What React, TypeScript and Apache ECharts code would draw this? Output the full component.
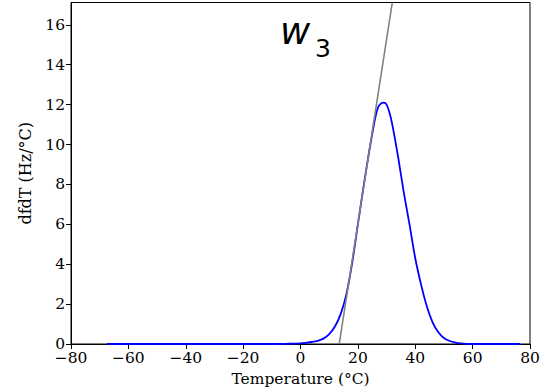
import React, { useEffect, useRef } from "react";
import * as echarts from "echarts";

const temps = [-67.5, -60, -50, -40, -30, -20, -10, -5, 0, 2, 4, 6, 8, 10, 12, 14, 16, 18, 20, 22, 24, 26, 27, 28, 29, 30, 31, 32, 34, 36, 38, 40, 42, 44, 46, 48, 50, 52, 54, 56, 58, 60, 65, 70, 76.5];
const dfdT = [0, 0, 0, 0, 0, 0, 0, 0.01, 0.03, 0.06, 0.1, 0.16, 0.27, 0.5, 0.88, 1.5, 2.5, 4.05, 6.0, 7.9, 9.7, 11.3, 11.85, 12.05, 12.1, 12.0, 11.6, 11.0, 9.4, 7.6, 6.0, 4.3, 3.0, 1.9, 1.1, 0.6, 0.3, 0.15, 0.07, 0.03, 0.01, 0, 0, 0, 0];

const tangentX = [13.5, 32.0];
const tangentY = [0, 17.12];

const yTicks = [0, 2, 4, 6, 8, 10, 12, 14, 16];
const xMin = -80;
const xMax = 80;
const yMax = 17.12;

const labelText = "w";
const subText = "3";

export default function App() {
  const ref = useRef<HTMLDivElement>(null);
  useEffect(() => {
    if (!ref.current) return;
    const chart = echarts.init(ref.current, null, { renderer: "svg" });
    const serif = "DejaVu Serif";
    chart.setOption({
      animation: false,
      backgroundColor: "#fff",
      grid: {
        left: 71,
        right: 15,
        top: 2.5,
        bottom: 47,
        show: true,
        borderColor: "#000",
        borderWidth: 1,
        backgroundColor: "transparent",
      },
      xAxis: {
        type: "value",
        min: xMin,
        max: xMax,
        interval: 20,
        name: "Temperature (°C)",
        nameLocation: "middle",
        nameGap: 27,
        nameTextStyle: { fontFamily: serif, fontSize: 15.5, color: "#000" },
        axisLine: { onZero: false, lineStyle: { color: "#000", width: 1 } },
        axisTick: { inside: false, length: 5, lineStyle: { color: "#000" } },
        axisLabel: {
          fontFamily: serif,
          fontSize: 15.5,
          color: "#000",
          margin: 6,
          formatter: (v: number) => (v < 0 ? "\u2212" + Math.abs(v) : String(v)),
        },
        splitLine: { show: false },
      },
      yAxis: {
        type: "value",
        min: 0,
        max: yMax,
        name: "dfdT (Hz/°C)",
        nameLocation: "middle",
        nameGap: 38,
        nameTextStyle: { fontFamily: serif, fontSize: 16, color: "#000" },
        axisLine: { show: true, onZero: false, lineStyle: { color: "#000", width: 1 } },
        axisTick: { show: true, inside: false, length: 5, customValues: yTicks, lineStyle: { color: "#000" } },
        axisLabel: {
          fontFamily: serif,
          fontSize: 15.5,
          color: "#000",
          margin: 6,
          customValues: yTicks,
        },
        splitLine: { show: false },
      },
      series: [
        {
          type: "line",
          data: temps.map((t, i) => [t, dfdT[i]]),
          showSymbol: false,
          smooth: 0.3,
          lineStyle: { color: "#0000ff", width: 1.8 },
          clip: true,
          z: 2,
        },
        {
          type: "line",
          data: tangentX.map((t, i) => [t, tangentY[i]]),
          showSymbol: false,
          lineStyle: { color: "#808080", width: 1.6 },
          clip: true,
          z: 3,
        },
      ],
      graphic: [
        {
          type: "text",
          left: 280,
          top: 13,
          style: {
            text: labelText,
            font: "italic 37px 'DejaVu Sans'",
            fill: "#000",
          },
        },
        {
          type: "text",
          left: 315,
          top: 36,
          style: {
            text: subText,
            font: "25px 'DejaVu Sans'",
            fill: "#000",
          },
        },
      ],
    });
    return () => chart.dispose();
  }, []);
  return (
    <div
      ref={ref}
      style={{ position: "fixed", left: 0, top: 0, width: 545, height: 392 }}
    />
  );
}
